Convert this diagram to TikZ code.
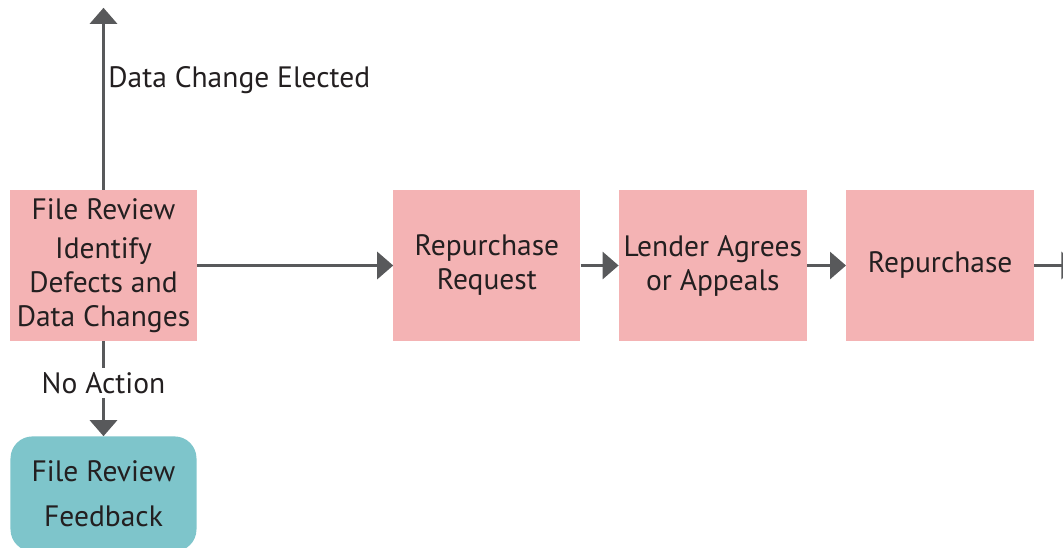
\documentclass[tikz,border=0pt]{standalone}
\usepackage{fontspec}
\setmainfont{PT Sans}
\usepackage{xcolor}
\usepackage{tikz}
\usetikzlibrary{positioning, arrows.meta}

\definecolor{reviewpink}{HTML}{F4B3B4}
\definecolor{feedteal}{HTML}{7EC5CB}
\definecolor{arrowgray}{HTML}{58595B}
\definecolor{textdark}{HTML}{231F20}

\begin{document}
\begin{tikzpicture}[
  font=\fontsize{29.5}{34}\selectfont, text=textdark,
  box/.style={fill=reviewpink, minimum width=187pt, minimum height=151pt,
    align=center, inner sep=0pt},
  arrow/.style={-{Triangle[length=16pt, width=27pt]}, line width=3pt, draw=arrowgray},
]
  % frame of the picture
  \useasboundingbox (-103.5pt,265.5pt) rectangle (959.5pt,-281.5pt);
  \clip (-103.5pt,265.5pt) rectangle (959.5pt,-281.5pt);

  \node[box] (review) at (0,0) {File Review\\[5pt] Identify\\ Defects and\\ Data Changes};
  \node[box, right=196pt of review] (request) {Repurchase\\ Request};
  \node[box, right=38pt of request, minimum width=188pt] (lender) {Lender Agrees\\ or Appeals};
  \node[box, right=39pt of lender, minimum width=188pt] (repurchase) {Repurchase};
  \node[box, below=95pt of review, fill=feedteal, rounded corners=22pt,
    minimum width=186pt, minimum height=115pt,
    font=\fontsize{29.5}{45}\selectfont] (feedback) {File Review\\ Feedback};

  \coordinate[above=182pt of review.north] (elected);
  \coordinate[right=43pt of repurchase] (onward);

  \draw[arrow] (review.north) -- node[right, pos=0.6] (dcl) {Data Change Elected} (elected);
  \draw[arrow] (review) -- (request);
  \draw[arrow] (request) -- (lender);
  \draw[arrow] (lender) -- (repurchase);
  \draw[arrow] (repurchase) -- (onward);
  \draw[arrow] (review) -- node[fill=white, inner sep=4pt, pos=0.44] (noact) {No Action} (feedback);
\end{tikzpicture}
\end{document}
